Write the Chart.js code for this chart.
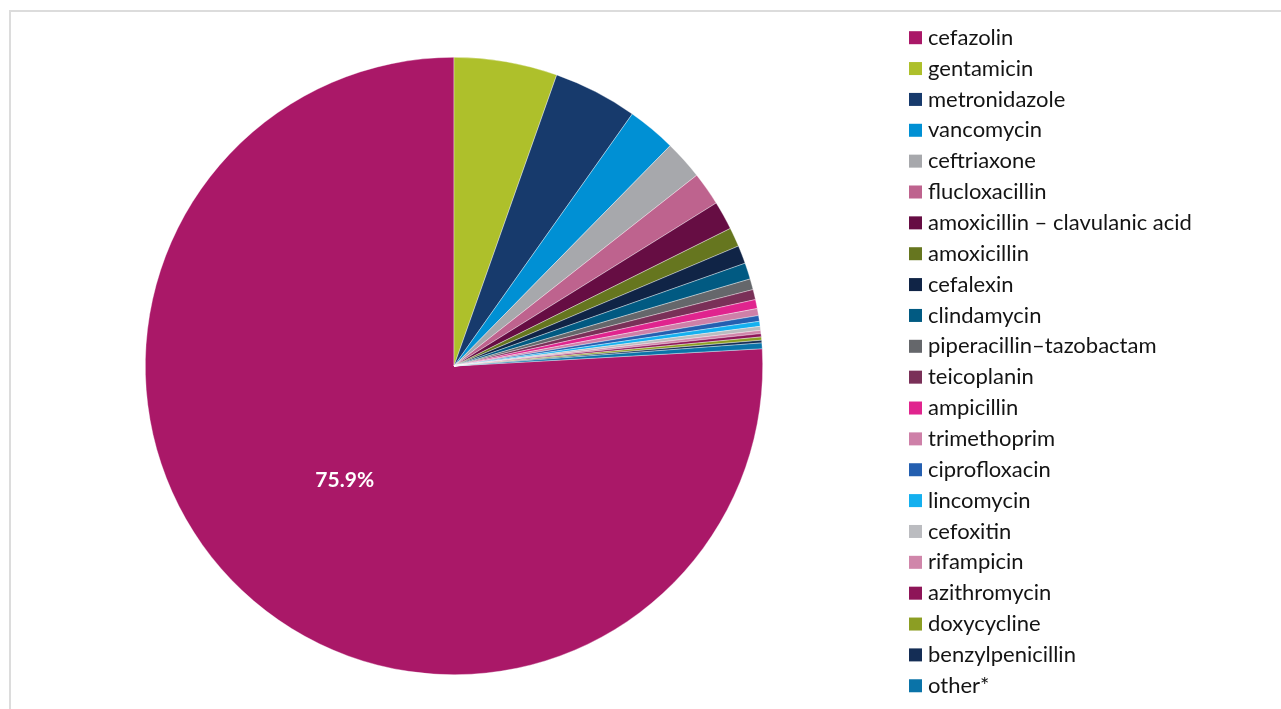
<!DOCTYPE html>
<html>
<head>
<meta charset="utf-8">
<script src="https://cdn.jsdelivr.net/npm/chart.js@4.4.1/dist/chart.umd.min.js"></script>
<style>
  html, body { margin: 0; padding: 0; background: #ffffff; overflow: hidden; }
  #wrap { position: relative; width: 1281px; height: 709px; }
  #frame { position: absolute; left: 9px; top: 10px; width: 1400px; height: 800px;
           border-top: 2px solid #dcdcdc; border-left: 2px solid #dcdcdc; box-sizing: border-box; }
  canvas { position: absolute; left: 0; top: 0; }
</style>
</head>
<body>
<div id="wrap">
  <div id="frame"></div>
  <canvas id="c" width="1281" height="709"></canvas>
</div>
<script>
const categories = [
  "cefazolin", "gentamicin", "metronidazole", "vancomycin", "ceftriaxone",
  "flucloxacillin", "amoxicillin \u2013 clavulanic acid", "amoxicillin", "cefalexin",
  "clindamycin", "piperacillin\u2013tazobactam", "teicoplanin", "ampicillin",
  "trimethoprim", "ciprofloxacin", "lincomycin", "cefoxitin", "rifampicin",
  "azithromycin", "doxycycline", "benzylpenicillin", "other*"
];
const shares = [
  75.9, 5.4, 4.4, 2.55, 2.05,
  1.75, 1.5, 1.0, 0.95,
  0.85, 0.57, 0.53, 0.47,
  0.37, 0.30, 0.26, 0.21, 0.17,
  0.17, 0.17, 0.14, 0.30
];
const sliceColors = [
  "#AA1868", "#AEC02B", "#173A6C", "#0090D4", "#A7A8AC",
  "#BE638E", "#660D43", "#66761F", "#102446",
  "#015A82", "#65676B", "#7A3058", "#E0248E",
  "#CE80A8", "#245FB0", "#14B0EF", "#BBBCC0", "#D086AA",
  "#8E1558", "#8C9E23", "#142D55", "#0A73A8"
];
const dataLabels = ["75.9%"];

const total = shares.reduce((a, b) => a + b, 0);
const startRotation = (total - shares[0]) / total * 360;

const legendPlugin = {
  id: 'sideLegend',
  afterDraw(chart) {
    const ctx = chart.ctx;
    const labels = chart.data.labels;
    const colors = chart.data.datasets[0].backgroundColor;
    const x0 = 909, y0 = 37.7, step = 30.86, box = 13;
    ctx.save();
    ctx.font = '22px Lato';
    ctx.textBaseline = 'middle';
    ctx.textAlign = 'left';
    labels.forEach((lab, i) => {
      const yc = y0 + i * step;
      ctx.fillStyle = colors[i];
      ctx.fillRect(x0, yc - box / 2, box, box);
      ctx.fillStyle = '#141414';
      ctx.fillText(lab, x0 + 19, yc);
    });
    ctx.restore();
  }
};

const valueLabelPlugin = {
  id: 'valueLabel',
  afterDatasetsDraw(chart) {
    const meta = chart.getDatasetMeta(0);
    const arc = meta.data[0];
    const ctx = chart.ctx;
    const mid = (arc.startAngle + arc.endAngle) / 2;
    const r = arc.outerRadius * 0.52;
    const x = arc.x + Math.cos(mid) * r;
    const y = arc.y + Math.sin(mid) * r;
    ctx.save();
    ctx.font = 'bold 21px Lato';
    ctx.fillStyle = '#ffffff';
    ctx.textAlign = 'center';
    ctx.textBaseline = 'middle';
    ctx.fillText(dataLabels[0], x + 1, y - 2);
    ctx.restore();
  }
};

new Chart(document.getElementById('c'), {
  type: 'pie',
  data: {
    labels: categories,
    datasets: [{
      data: shares,
      backgroundColor: sliceColors,
      borderColor: 'rgba(255,255,255,0.6)',
      borderWidth: 0.6,
      hoverOffset: 0,
      offset: 0
    }]
  },
  options: {
    responsive: false,
    animation: false,
    rotation: startRotation,
    layout: { padding: { left: 0, right: 373, top: 57, bottom: 34 } },
    plugins: {
      legend: { display: false },
      tooltip: { enabled: false }
    }
  },
  plugins: [valueLabelPlugin, legendPlugin]
});
</script>
</body>
</html>
